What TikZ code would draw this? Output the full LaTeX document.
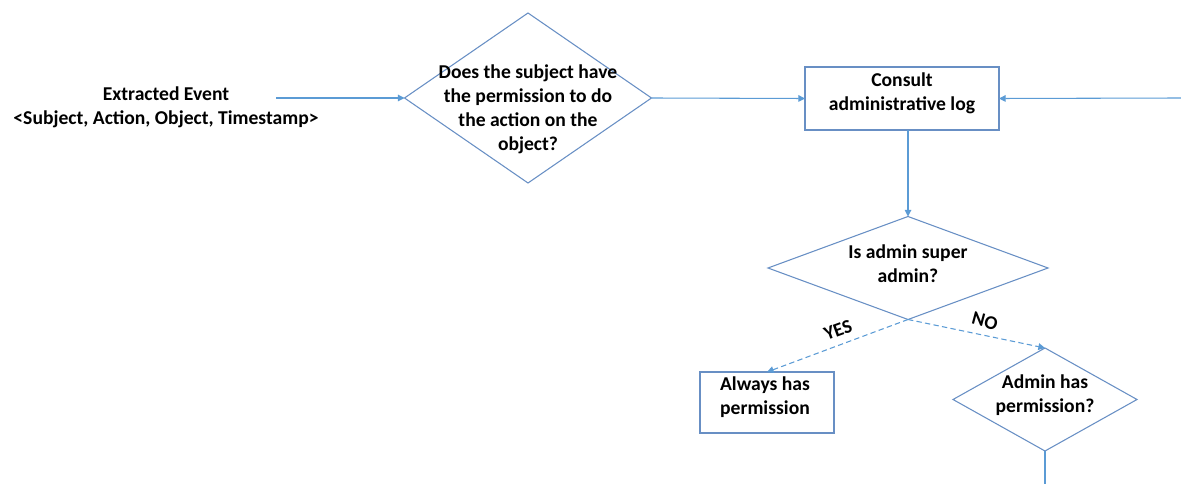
\documentclass[tikz,border=0pt]{standalone}
\usepackage{fontspec}
\setmainfont{Carlito}
\usetikzlibrary{shapes.geometric,arrows.meta}
\definecolor{linkblue}{RGB}{91,155,213}
\definecolor{edgeblue}{RGB}{104,143,196}
\tikzset{
  px/.style={x=0.75pt,y=-0.75pt},
  lbl/.style={font=\fontsize{14.7}{18}\selectfont\bfseries,align=center,inner sep=0pt},
  smalllbl/.style={font=\fontsize{14.5}{17}\selectfont\bfseries,inner sep=0pt},
  decision/.style={diamond,draw=edgeblue,line width=0.8pt,inner sep=0pt,outer sep=0pt},
  stepbox/.style={rectangle,draw=edgeblue,line width=0.8pt,inner sep=0pt,outer sep=0pt},
  flow/.style={draw=linkblue,line width=0.8pt,-{Triangle[length=5pt,width=5pt]}},
  plainflow/.style={draw=linkblue,line width=0.8pt},
  dashflow/.style={flow,dash pattern=on 4pt off 2.5pt},
}
\begin{document}
\begin{tikzpicture}[px]
\useasboundingbox (0,0) rectangle (1181,484);

% input event
\node[lbl] (event) at (166,107) {Extracted Event\\<Subject, Action, Object, Timestamp>};
\coordinate (src) at (276,98);

% permission check
\node[decision,minimum width={247*0.75pt},minimum height={170*0.75pt}] (perm) at (528,98) {};
\node[lbl] (permtxt) at (528,109) {Does the subject have\\the permission to do\\the action on the\\object?};

% administrative log
\node[stepbox,minimum width={194*0.75pt},minimum height={63*0.75pt}] (log) at (902,98.5) {};
\node[lbl] (logtxt) at (902,93) {Consult\\administrative log};
\coordinate (extin) at (1181,98);

% super admin decision
\node[decision,minimum width={280*0.75pt},minimum height={103*0.75pt}] (super) at (908,268) {};
\node[lbl] (supertxt) at (908,264) {Is admin super\\admin?};

% outcomes
\node[stepbox,minimum width={134*0.75pt},minimum height={61*0.75pt}] (always) at (767,402.5) {};
\node[lbl] (alwaystxt) at (765,397.5) {Always has\\permission};

\node[decision,minimum width={184*0.75pt},minimum height={103*0.75pt}] (adminperm) at (1045,399.5) {};
\node[lbl] (adminpermtxt) at (1045,395) {Admin has\\permission?};
\coordinate (down) at (1045,484);

% connectors
\draw[flow] (src) -- (perm.west);
\draw[flow] (perm.east) -- (log.west);
\draw[flow] (extin) -- (log.east);
\draw[flow] (log.south -| super.north) -- (super.north);
\draw[dashflow] (super.south) -- (always.north);
\draw[dashflow] (super.south) -- (adminperm.north);
\draw[plainflow] (adminperm.south) -- (down);

% branch labels
\node[smalllbl,rotate=20] (yes) at (838,330) {YES};
\node[smalllbl,rotate=-15] (no) at (985,321) {NO};
\end{tikzpicture}
\end{document}
